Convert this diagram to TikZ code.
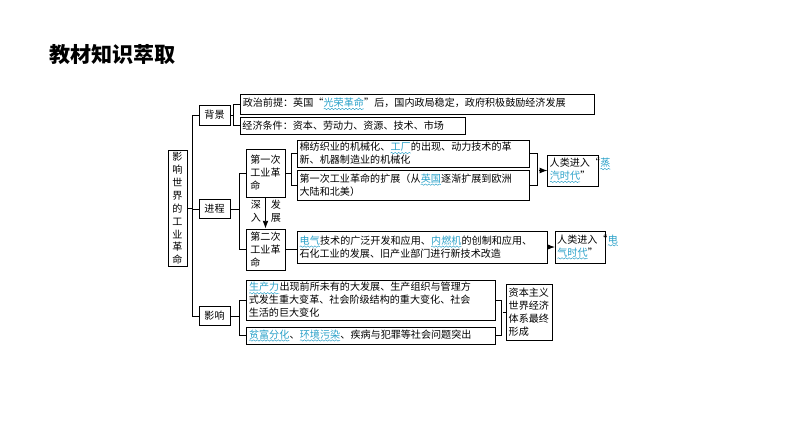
\documentclass[tikz,border=0pt]{standalone}
\usepackage{fontspec}
\newfontfamily\cjk{Noto Sans CJK SC}
\usetikzlibrary{arrows.meta, decorations.pathmorphing}
\definecolor{wavecol}{RGB}{40,160,200}
\newcommand{\wv}[1]{\tikz[baseline=(w.base)]{\node[draw=none, inner sep=0pt, outer sep=0pt, text width=,
    minimum width=0pt, minimum height=0pt, text=wavecol] (w) {#1};
  \draw[wavecol, thin, decorate, decoration={snake, amplitude=0.6pt, segment length=3pt}]
    ([yshift=-1.2pt]w.south west) -- ([yshift=-1.2pt]w.south east);}}
\tikzset{
  box/.style={draw, thick, inner sep=1.5pt, align=left, font=\cjk\fontsize{8.6}{11}\selectfont, anchor=center},
  link/.style={thick},
}
\begin{document}
\begin{tikzpicture}[x=0.03cm, y=-0.03cm, >=Latex]
\useasboundingbox (0,0) rectangle (794,447);

\node [font=\cjk\bfseries\fontsize{18}{20}\selectfont, anchor=west] (title) at (45,55) {教材知识萃取};

%\draw [lightgray, dashed](0,0) grid[step=50] (794,447);

\node [box, minimum width=0.57cm, minimum height=3.21cm, align=center] (root) at (177.5,208.5)
  {影\\响\\世\\界\\的\\工\\业\\革\\命};
\node [box, minimum width=0.93cm, minimum height=0.6cm] (bj) at (214.5,115) {背景};
\node [box, minimum width=0.93cm, minimum height=0.55cm] (jc) at (214.5,209) {进程};
\node [box, minimum width=0.93cm, minimum height=0.55cm] (yx) at (214.5,316) {影响};

\node [box, minimum width=10.62cm, minimum height=0.6cm, text width=10.45cm] (zz) at (417,104)
  {政治前提：英国“\wv{光荣革命}”后，国内政局稳定，政府积极鼓励经济发展};
\node [box, minimum width=6.75cm, minimum height=0.51cm, text width=6.6cm] (jj) at (352.5,125.5)
  {经济条件：资本、劳动力、资源、技术、市场};

\node [box, minimum width=1.17cm, minimum height=1.44cm] (d1) at (265.5,173) {第一次\\工业革\\命};
\node [box, minimum width=1.17cm, minimum height=1.23cm] (d2) at (265.5,249.5) {第二次\\工业革\\命};
\node [box, minimum width=6.96cm, minimum height=0.81cm, text width=6.8cm] (a1) at (413,153.5)
  {棉纺织业的机械化、\wv{工厂}的出现、动力技术的革\\新、机器制造业的机械化};
\node [box, minimum width=6.96cm, minimum height=0.9cm, text width=6.8cm] (a2) at (413,185)
  {第一次工业革命的扩展（从\wv{英国}逐渐扩展到欧洲\\大陆和北美）};
\node [box, minimum width=1.5cm, minimum height=0.93cm, text width=1.4cm] (zq) at (573,170.5)
  {人类进入“\wv{蒸}\\\wv{汽时代}”};
\node [box, minimum width=7.5cm, minimum height=0.96cm, text width=7.35cm] (b2) at (422,247)
  {\wv{电气}技术的广泛开发和应用、\wv{内燃机}的创制和应用、\\石化工业的发展、旧产业部门进行新技术改造};
\node [box, minimum width=1.47cm, minimum height=0.96cm, text width=1.4cm] (dq) at (580.5,247)
  {人类进入“\wv{电}\\\wv{气时代}”};

\node [box, minimum width=7.47cm, minimum height=1.2cm, text width=7.3cm] (y1) at (370.5,300)
  {\wv{生产力}出现前所未有的大发展、生产组织与管理方\\式发生重大变革、社会阶级结构的重大变化、社会\\生活的巨大变化};
\node [box, minimum width=7.47cm, minimum height=0.51cm, text width=7.3cm] (y2) at (370.5,335.5)
  {\wv{贫富分化}、\wv{环境污染}、疾病与犯罪等社会问题突出};
\node [box, minimum width=1.35cm, minimum height=1.68cm, text width=1.25cm] (zb) at (529.5,312)
  {资本主义\\世界经济\\体系最终\\形成};

\node [font=\cjk\fontsize{8.6}{11}\selectfont, align=center] (sr) at (256,211) {深\\入};
\node [font=\cjk\fontsize{8.6}{11}\selectfont, align=center] (fz) at (276,211) {发\\展};

% trunk
\draw [link] (root.east) -- ++(6,0) coordinate (t);
\draw [link] (bj.west) -- ++(-6,0) |- (yx.west);
\draw [link] (jc.west) -- (t |- jc.west);
% background
\draw [link] (zz.west) -- ++(-6,0) |- (jj.west);
\draw [link] (bj.east) -- ++(4,0);
% process
\draw [link] (d1.west) -- ++(-6,0) |- (d2.west);
\draw [link] (jc.east) -- ++(10,0);
\draw [link, ->] (d1.south) -- (d2.north);
\draw [link] (a1.west) -- ++(-5,0) |- (a2.west);
\draw [link] (d1.east) -- ++(7,0);
\draw [link] (a1.east) -- ++(8,0) |- (a2.east);
\draw [link, ->] ([xshift=8]a1.east |- zq.west) -- (zq.west);
\draw [link] (d2.east) -- (b2.west |- d2.east);
\draw [link, ->] (b2.east) -- (dq.west);
% influence
\draw [link] (y1.west) -- ++(-6,0) |- (y2.west);
\draw [link] (yx.east) -- ++(10,0);
\draw [link] (y1.east) -- ++(6,0) |- (y2.east);
\draw [link] ([xshift=6]y1.east |- zb.west) -- (zb.west);
\end{tikzpicture}
\end{document}
